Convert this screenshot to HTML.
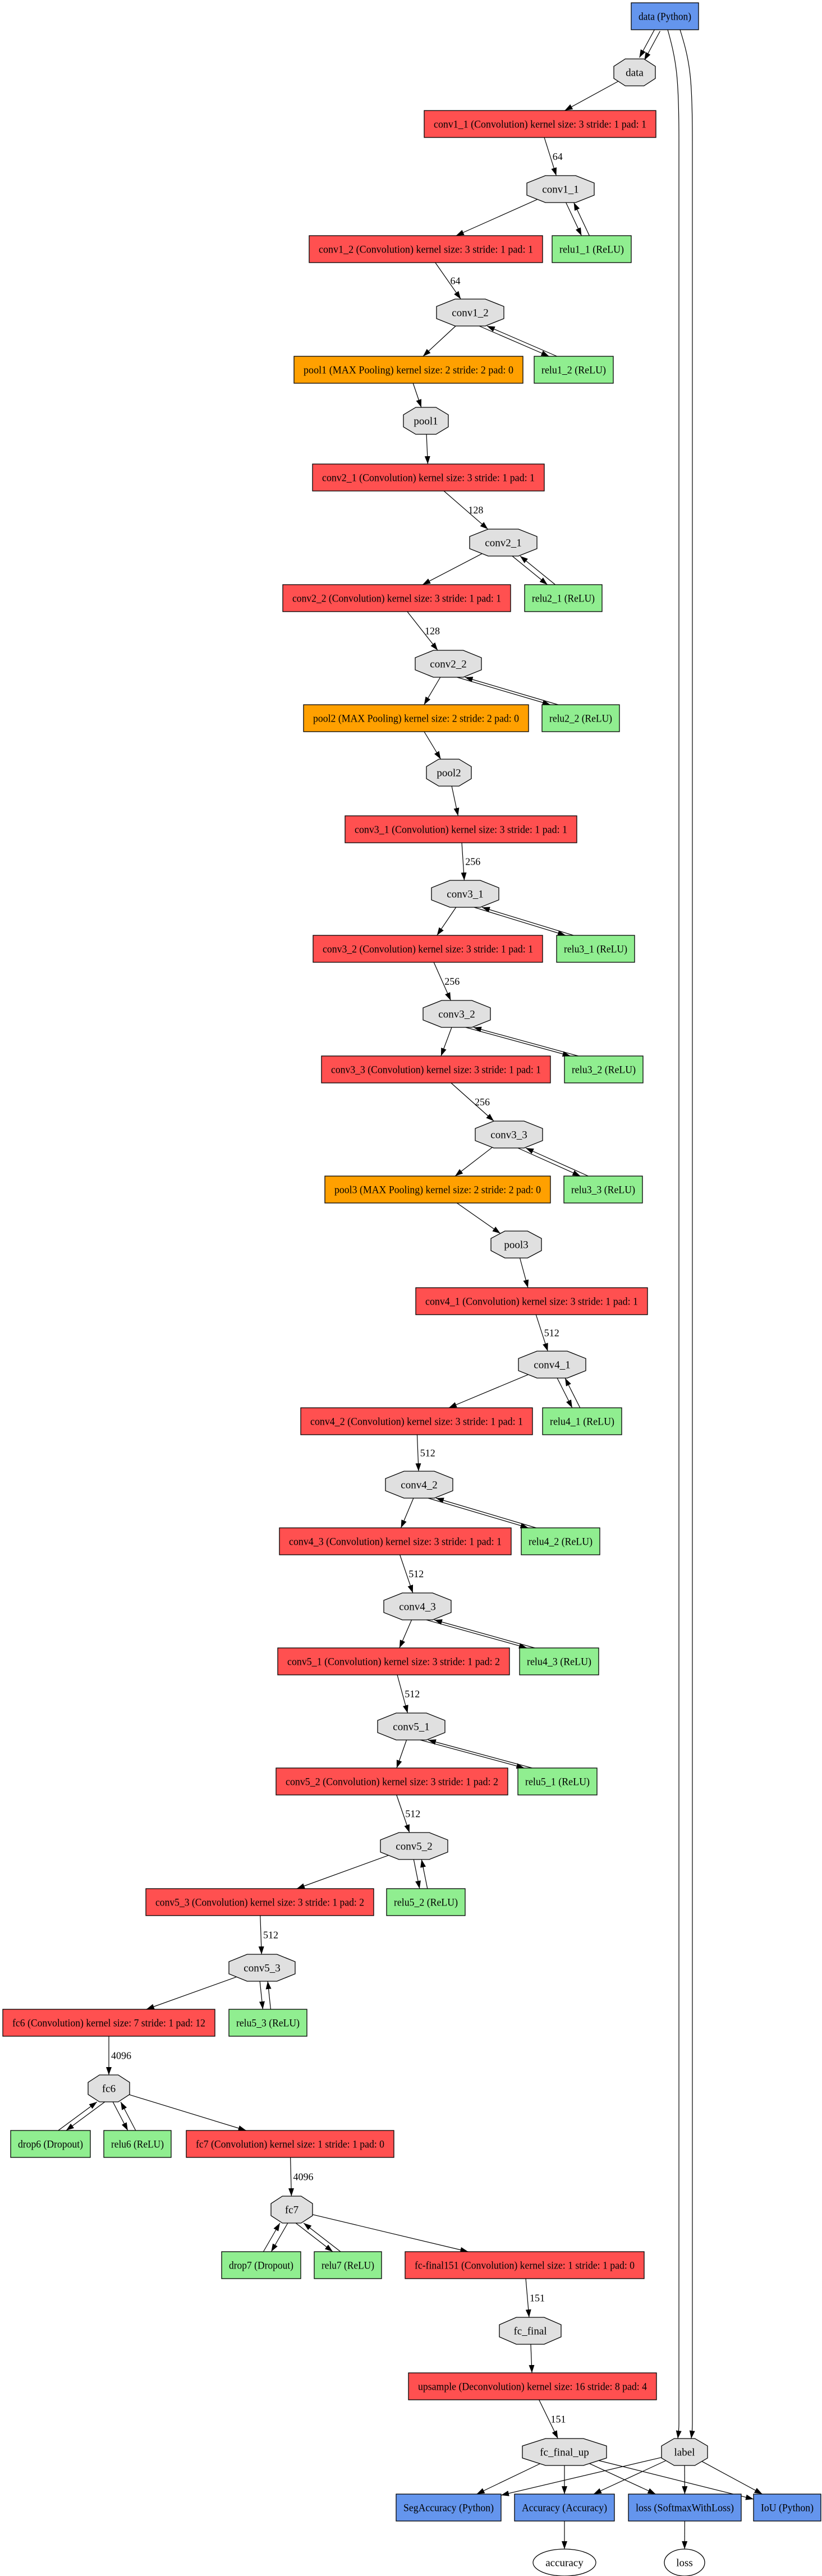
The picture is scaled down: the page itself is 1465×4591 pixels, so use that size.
<!DOCTYPE html>
<html><head><meta charset="utf-8">
<style>
html,body{margin:0;padding:0;background:#fff;}
svg{display:block;}
text{font-family:"Liberation Serif",serif;font-size:19px;fill:#000;}
#lbl text{font-size:18px;}
.b{stroke:#000;stroke-width:1.3;}
.r{fill:#ff5050;}.g{fill:#90ee90;}.o{fill:#ffa000;}.bl{fill:#6495ed;}.oc{fill:#e0e0e0;stroke:#000;stroke-width:1.3;}
</style></head><body>
<svg id="s" width="1465" height="4591" viewBox="0 0 1465 4591" xmlns="http://www.w3.org/2000/svg">
<defs><marker id="a" markerWidth="14" markerHeight="10" refX="14" refY="5" orient="auto" markerUnits="userSpaceOnUse"><path d="M0,0 L14,5 L0,10 z" fill="#000"/></marker></defs>
<g id="edges" fill="none" stroke="#000" stroke-width="1.2">
<path d="M1190,53 C1206,110 1210,140 1210,250 L1210,4320 C1210,4330 1209,4338 1208,4346" marker-end="url(#a)"/>
<path d="M1212,53 C1230,110 1234,140 1234,250 L1234,4320 C1234,4330 1233,4338 1232,4346" marker-end="url(#a)"/>
</g>
<g id="nodes"></g>
<g id="txt" text-anchor="middle">
<text class="data_py">data (Python)</text>
<text class="data">data</text>
<text class="c11">conv1_1 (Convolution) kernel size: 3 stride: 1 pad: 1</text>
<text class="o11">conv1_1</text>
<text class="c12">conv1_2 (Convolution) kernel size: 3 stride: 1 pad: 1</text>
<text class="r11">relu1_1 (ReLU)</text>
<text class="o12">conv1_2</text>
<text class="p1">pool1 (MAX Pooling) kernel size: 2 stride: 2 pad: 0</text>
<text class="r12">relu1_2 (ReLU)</text>
<text class="op1">pool1</text>
<text class="c21">conv2_1 (Convolution) kernel size: 3 stride: 1 pad: 1</text>
<text class="o21">conv2_1</text>
<text class="c22">conv2_2 (Convolution) kernel size: 3 stride: 1 pad: 1</text>
<text class="r21">relu2_1 (ReLU)</text>
<text class="o22">conv2_2</text>
<text class="p2">pool2 (MAX Pooling) kernel size: 2 stride: 2 pad: 0</text>
<text class="r22">relu2_2 (ReLU)</text>
<text class="op2">pool2</text>
<text class="c31">conv3_1 (Convolution) kernel size: 3 stride: 1 pad: 1</text>
<text class="o31">conv3_1</text>
<text class="c32">conv3_2 (Convolution) kernel size: 3 stride: 1 pad: 1</text>
<text class="r31">relu3_1 (ReLU)</text>
<text class="o32">conv3_2</text>
<text class="c33">conv3_3 (Convolution) kernel size: 3 stride: 1 pad: 1</text>
<text class="r32">relu3_2 (ReLU)</text>
<text class="o33">conv3_3</text>
<text class="p3">pool3 (MAX Pooling) kernel size: 2 stride: 2 pad: 0</text>
<text class="r33">relu3_3 (ReLU)</text>
<text class="op3">pool3</text>
<text class="c41">conv4_1 (Convolution) kernel size: 3 stride: 1 pad: 1</text>
<text class="o41">conv4_1</text>
<text class="c42">conv4_2 (Convolution) kernel size: 3 stride: 1 pad: 1</text>
<text class="r41">relu4_1 (ReLU)</text>
<text class="o42">conv4_2</text>
<text class="c43">conv4_3 (Convolution) kernel size: 3 stride: 1 pad: 1</text>
<text class="r42">relu4_2 (ReLU)</text>
<text class="o43">conv4_3</text>
<text class="c51">conv5_1 (Convolution) kernel size: 3 stride: 1 pad: 2</text>
<text class="r43">relu4_3 (ReLU)</text>
<text class="o51">conv5_1</text>
<text class="c52">conv5_2 (Convolution) kernel size: 3 stride: 1 pad: 2</text>
<text class="r51">relu5_1 (ReLU)</text>
<text class="o52">conv5_2</text>
<text class="c53">conv5_3 (Convolution) kernel size: 3 stride: 1 pad: 2</text>
<text class="r52">relu5_2 (ReLU)</text>
<text class="o53">conv5_3</text>
<text class="fc6b">fc6 (Convolution) kernel size: 7 stride: 1 pad: 12</text>
<text class="r53">relu5_3 (ReLU)</text>
<text class="ofc6">fc6</text>
<text class="d6">drop6 (Dropout)</text>
<text class="rl6">relu6 (ReLU)</text>
<text class="fc7b">fc7 (Convolution) kernel size: 1 stride: 1 pad: 0</text>
<text class="ofc7">fc7</text>
<text class="d7">drop7 (Dropout)</text>
<text class="rl7">relu7 (ReLU)</text>
<text class="ff">fc-final151 (Convolution) kernel size: 1 stride: 1 pad: 0</text>
<text class="off">fc_final</text>
<text class="up">upsample (Deconvolution) kernel size: 16 stride: 8 pad: 4</text>
<text class="ofu">fc_final_up</text>
<text class="lab">label</text>
<text class="sa">SegAccuracy (Python)</text>
<text class="ac">Accuracy (Accuracy)</text>
<text class="ls">loss (SoftmaxWithLoss)</text>
<text class="iou">IoU (Python)</text>
<text class="eac">accuracy</text>
<text class="els">loss</text>
</g>
<g id="lbl"></g>
</svg>
<script>
var N={
data_py:['B',1185,29,60,'bl'],
data:['O',1131,129,37],
c11:['B',962.5,221,206.5,'r'],
o11:['O',999,337,60],
c12:['B',759,444,208,'r'],
r11:['B',1054.5,444,70.5,'g'],
o12:['O',838,557,60],
p1:['B',728,659,204,'o'],
r12:['B',1022.5,659,70.5,'g'],
op1:['O',759,750,40],
c21:['B',763.5,851,206.5,'r'],
o21:['O',897,967,60],
c22:['B',707,1066,203,'r'],
r21:['B',1004,1066,69,'g'],
o22:['O',799,1183,59],
p2:['B',741.5,1280,200.5,'o'],
r22:['B',1035,1280,69,'g'],
op2:['O',800,1377,40],
c31:['B',821.5,1478,206.5,'r'],
o31:['O',829,1593,60],
c32:['B',762.5,1691,204.5,'r'],
r31:['B',1061.5,1691,69.5,'g'],
o32:['O',814,1807,60],
c33:['B',777,1906,204,'r'],
r32:['B',1076,1906,70,'g'],
o33:['O',907,2022,60],
p3:['B',780,2120,201,'o'],
r33:['B',1075,2120,70,'g'],
op3:['O',920,2218,45],
c41:['B',947.5,2319,206.5,'r'],
o41:['O',984,2432,60],
c42:['B',742.5,2533,206.5,'r'],
r41:['B',1037.5,2533,70.5,'g'],
o42:['O',747,2646,60],
c43:['B',704.5,2747,206.5,'r'],
r42:['B',999,2747,70,'g'],
o43:['O',744,2863,60],
c51:['B',701.5,2961,206.5,'r'],
r43:['B',996.5,2961,70.5,'g'],
o51:['O',733,3077,60],
c52:['B',698.5,3175,206.5,'r'],
r51:['B',993.5,3175,70.5,'g'],
o52:['O',738,3290,60],
c53:['B',463,3390,203,'r'],
r52:['B',759,3390,70,'g'],
o53:['O',467,3507,59],
fc6b:['B',194,3605,189,'r'],
r53:['B',477.5,3605,69.5,'g'],
ofc6:['O',194,3722,37],
d6:['B',90,3821,71,'g'],
rl6:['B',245,3821,60,'g'],
fc7b:['B',517,3821,185,'r'],
ofc7:['O',520,3938,37],
d7:['B',465.5,4037,70.5,'g'],
rl7:['B',620,4037,60,'g'],
ff:['B',935,4037,213,'r'],
off:['O',945,4154,55],
up:['B',949,4253,221,'r'],
ofu:['O',1006,4370,75],
lab:['O',1220,4370,41],
sa:['B',799.5,4469,93.5,'bl'],
ac:['B',1006,4469,89,'bl'],
ls:['B',1220.5,4469,100.5,'bl'],
iou:['B',1403,4469,60,'bl'],
eac:['E',1006,4567,56],
els:['E',1220,4567,36]
};
var NS='http://www.w3.org/2000/svg',HH=24;
function el(t,a,p){var e=document.createElementNS(NS,t);for(var k in a)e.setAttribute(k,a[k]);p.appendChild(e);return e;}
var gN=document.getElementById('nodes'),gE=document.getElementById('edges'),gL=document.getElementById('lbl');
for(var k in N){var n=N[k],x=n[1],y=n[2],w=n[3];
 if(n[0]=='B'){el('rect',{x:x-w,y:y-HH,width:2*w,height:2*HH,'class':'b '+n[4]},gN);}
 else if(n[0]=='O'){var a=w*0.45,b=HH*0.45;
  el('polygon',{points:[x-a,y-HH,x+a,y-HH,x+w,y-b,x+w,y+b,x+a,y+HH,x-a,y+HH,x-w,y+b,x-w,y-b].join(','),'class':'oc'},gN);}
 else {el('ellipse',{cx:x,cy:y,rx:w,ry:HH,fill:'#fff',stroke:'#000','stroke-width':1.3},gN);}
}
var ts=document.querySelectorAll('#txt text');
for(var i=0;i<ts.length;i++){var t=ts[i],n=N[t.getAttribute('class')];if(!n)continue;
 t.setAttribute('x',n[1]);t.setAttribute('y',n[2]+6.5);
 if(n[0]=='B'){var tl=2*n[3]-(n[3]>120?34:26);var cl=t.getComputedTextLength();
  if(Math.abs(cl-tl)>3){t.setAttribute('textLength',tl);t.setAttribute('lengthAdjust','spacingAndGlyphs');}}
}
function clip(n,dx,dy){var w=n[3],ax=Math.abs(dx),ay=Math.abs(dy);
 var t=Math.min(ax?w/ax:1e9,ay?HH/ay:1e9);
 if(n[0]=='O'){var a=0.45*w,b=0.45*HH;var t2=(a/(w-a)+HH/(HH-b))/(ax/(w-a)+ay/(HH-b));t=Math.min(t,t2);}
 if(n[0]=='E'){t=1/Math.sqrt((dx*dx)/(w*w)+(dy*dy)/(HH*HH));}
 return [n[1]+dx*t,n[2]+dy*t];}
function line(s,e){el('line',{x1:s[0],y1:s[1],x2:e[0],y2:e[1],'marker-end':'url(#a)'},gE);}
function E(f,t,lab,off){var A=N[f],B=N[t],dx=B[1]-A[1],dy=B[2]-A[2];
 var s=clip(A,dx,dy),e=clip(B,-dx,-dy);off=off||0;
 if(off){var L=Math.sqrt(dx*dx+dy*dy),px=-dy/L*off,py=dx/L*off;s[0]+=px;s[1]+=py;e[0]+=px;e[1]+=py;}
 line(s,e);
 if(lab){var tx=el('text',{x:(s[0]+e[0])/2+4,y:(s[1]+e[1])/2+6},gL);tx.textContent=lab;}
}
function R(o,r){var O=N[o],Rr=N[r],dx=Rr[1]-O[1],sg=dx>=0?1:-1,a=0.45*O[3];
 var sx=O[1]+sg*Math.min(Math.abs(dx)*0.3,a*0.85),ex=Rr[1]-dx*0.2;
 var y1=O[2]+HH,y2=Rr[2]-HH;
 line([sx-7*sg,y1],[ex-7*sg,y2]);
 line([ex+7*sg,y2],[sx+7*sg,y1]);}
E('data_py','data',null,5);E('data_py','data',null,-5);
E('data','c11');E('c11','o11','64');E('o11','c12');R('o11','r11');
E('c12','o12','64');E('o12','p1');R('o12','r12');E('p1','op1');E('op1','c21');
E('c21','o21','128');E('o21','c22');R('o21','r21');
E('c22','o22','128');E('o22','p2');R('o22','r22');E('p2','op2');E('op2','c31');
E('c31','o31','256');E('o31','c32');R('o31','r31');
E('c32','o32','256');E('o32','c33');R('o32','r32');
E('c33','o33','256');E('o33','p3');R('o33','r33');E('p3','op3');E('op3','c41');
E('c41','o41','512');E('o41','c42');R('o41','r41');
E('c42','o42','512');E('o42','c43');R('o42','r42');
E('c43','o43','512');E('o43','c51');R('o43','r43');
E('c51','o51','512');E('o51','c52');R('o51','r51');
E('c52','o52','512');E('o52','c53');R('o52','r52');
E('c53','o53','512');E('o53','fc6b');R('o53','r53');
E('fc6b','ofc6','4096');R('ofc6','d6');R('ofc6','rl6');E('ofc6','fc7b');
E('fc7b','ofc7','4096');R('ofc7','d7');R('ofc7','rl7');E('ofc7','ff');
E('ff','off','151');E('off','up');E('up','ofu','151');
['sa','ac','ls','iou'].forEach(function(t){E('ofu',t);E('lab',t);});
E('ac','eac');E('ls','els');
</script>
</body></html>
